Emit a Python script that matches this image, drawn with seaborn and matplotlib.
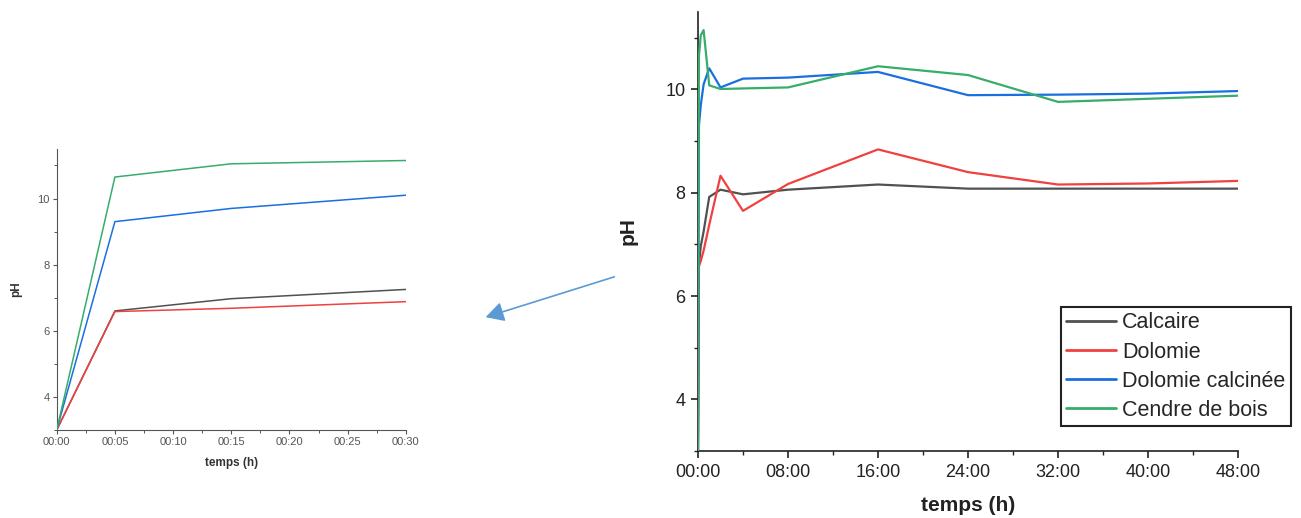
import numpy as np
import pandas as pd
import seaborn as sns
import matplotlib
matplotlib.use("Agg")
import matplotlib.pyplot as plt
from matplotlib.ticker import MultipleLocator, FuncFormatter
from matplotlib.patches import FancyArrowPatch

# Sampling times (hours) and measured pH for each amendment
times_h = [0.0, 5 / 60, 15 / 60, 0.5, 1.0, 2.0, 4.0, 8.0, 16.0, 24.0, 32.0, 40.0, 48.0]
ph_calcaire = [3.0, 6.60, 6.97, 7.25, 7.92, 8.06, 7.97, 8.06, 8.16, 8.08, 8.08, 8.08, 8.08]
ph_dolomie = [3.0, 6.58, 6.68, 6.88, 7.38, 8.33, 7.65, 8.17, 8.84, 8.40, 8.16, 8.18, 8.23]
ph_dolomie_calcinee = [3.0, 9.30, 9.70, 10.10, 10.41, 10.04, 10.21, 10.23, 10.34, 9.89, 9.90, 9.92, 9.97]
ph_cendre = [3.0, 10.65, 11.05, 11.15, 10.08, 10.01, 10.02, 10.04, 10.45, 10.28, 9.76, 9.82, 9.88]

materials = ["Calcaire", "Dolomie", "Dolomie calcinée", "Cendre de bois"]
colors = ["#515151", "#F14040", "#1A6FDF", "#37AD6B"]

rows = []
for name, vals in zip(materials, [ph_calcaire, ph_dolomie, ph_dolomie_calcinee, ph_cendre]):
    for t, v in zip(times_h, vals):
        rows.append({"temps": t, "minutes": t * 60, "pH": v, "materiau": name})
df = pd.DataFrame(rows)
palette = dict(zip(materials, colors))

sns.set_theme(style="ticks")
plt.rcParams["font.family"] = ["Liberation Sans", "DejaVu Sans"]

fig = plt.figure(figsize=(13.01, 5.18), dpi=100)

# ---- inset: first 30 minutes ----
ax1 = fig.add_axes([0.0436, 0.170, 0.2683, 0.5425])
early = df[df["minutes"] <= 30.001]
sns.lineplot(data=early, x="minutes", y="pH", hue="materiau", palette=palette,
             hue_order=materials, linewidth=1.1, legend=False, ax=ax1, estimator=None)
ax1.set_xlim(0, 30)
ax1.set_ylim(3, 11.5)
ax1.xaxis.set_major_locator(MultipleLocator(5))
ax1.xaxis.set_minor_locator(MultipleLocator(2.5))
ax1.set_yticks([4, 6, 8, 10])
ax1.yaxis.set_minor_locator(MultipleLocator(1))
ax1.xaxis.set_major_formatter(FuncFormatter(lambda m, p: f"00:{int(round(m)):02d}"))
ax1.tick_params(axis="both", which="major", direction="out", length=3, width=0.8,
                labelsize=8, colors="#555555", pad=2)
ax1.tick_params(axis="both", which="minor", direction="out", length=2, width=0.7, colors="#555555")
ax1.set_xlabel("temps (h)", fontsize=8.5, fontweight="bold", color="#333333", labelpad=7)
ax1.set_ylabel("pH", fontsize=8.5, fontweight="bold", color="#333333", labelpad=11)
for s in ["top", "right"]:
    ax1.spines[s].set_visible(False)
for s in ["left", "bottom"]:
    ax1.spines[s].set_color("#555555")
    ax1.spines[s].set_linewidth(0.8)
for ln in ax1.get_lines():
    ln.set_zorder(3)

# ---- main panel: 48 hours ----
ax2 = fig.add_axes([0.5365, 0.1293, 0.4151, 0.8475])
sns.lineplot(data=df, x="temps", y="pH", hue="materiau", palette=palette,
             hue_order=materials, linewidth=1.6, ax=ax2, estimator=None)
ax2.set_xlim(0, 48)
ax2.set_ylim(3, 11.5)
ax2.xaxis.set_major_locator(MultipleLocator(8))
ax2.xaxis.set_minor_locator(MultipleLocator(4))
ax2.set_yticks([4, 6, 8, 10])
ax2.yaxis.set_minor_locator(MultipleLocator(1))
ax2.xaxis.set_major_formatter(FuncFormatter(lambda h, p: f"{int(round(h)):02d}:00"))
ax2.tick_params(axis="both", which="major", direction="out", length=5, width=1.2,
                labelsize=13, colors="#222222", pad=4)
ax2.tick_params(axis="both", which="minor", direction="out", length=3, width=1.0, colors="#222222")
ax2.set_xlabel("temps (h)", fontsize=15, fontweight="bold", color="#222222", labelpad=11)
ax2.set_ylabel("pH", fontsize=15, fontweight="bold", color="#222222", labelpad=20)
for s in ["top", "right"]:
    ax2.spines[s].set_visible(False)
for s in ["left", "bottom"]:
    ax2.spines[s].set_color("#222222")
    ax2.spines[s].set_linewidth(1.2)
for ln in ax2.get_lines():
    ln.set_zorder(3)

leg = ax2.legend(loc="upper left", bbox_to_anchor=(0.8155, 0.4073),
                 bbox_transform=fig.transFigure, fontsize=15.5, frameon=True,
                 fancybox=False, borderpad=0.25, labelspacing=0.38, handlelength=2.3,
                 handletextpad=0.3, borderaxespad=0)
leg.get_frame().set_edgecolor("#222222")
leg.get_frame().set_linewidth(1.5)
leg.get_frame().set_alpha(1)
for line in leg.get_lines():
    line.set_linewidth(2.0)

# arrow pointing from the main panel to the inset
arrow = FancyArrowPatch((617 / 1301, 1 - 276 / 518), (483 / 1301, 1 - 318 / 518),
                        transform=fig.transFigure, arrowstyle="-|>,head_length=5.5,head_width=3",
                        color="#5B9BD5", linewidth=1.2, mutation_scale=2)
fig.add_artist(arrow)

fig.savefig("out.png", dpi=100, facecolor="white")
